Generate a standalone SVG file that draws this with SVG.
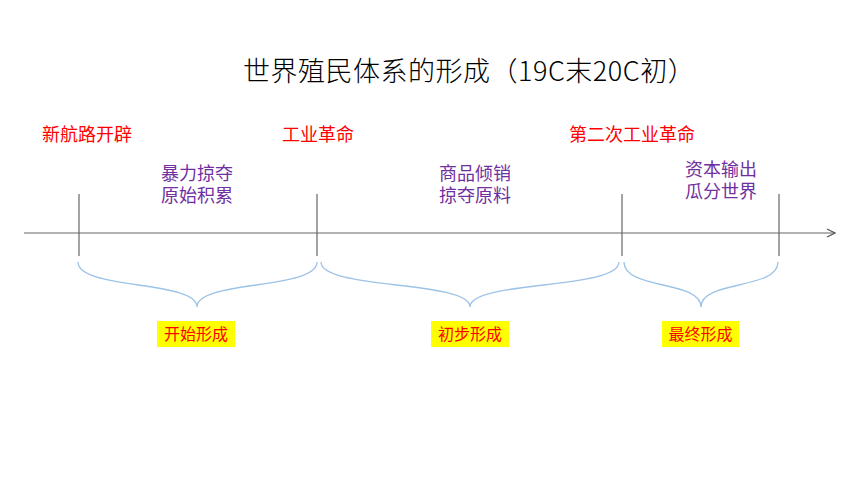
<svg xmlns="http://www.w3.org/2000/svg" width="860" height="484" viewBox="0 0 860 484">
<defs>
<style>
.t{font-family:"Noto Sans CJK SC","Noto Sans",sans-serif;}
.title{font-size:27px;fill:#000;font-weight:300;letter-spacing:0.5px;}
.red{font-size:18px;fill:#FF0000;}
.pur{font-size:18px;fill:#7030A0;text-anchor:middle;}
.lab{font-size:16px;fill:#FF0000;text-anchor:middle;}
.box{fill:#FFFF00;}
.tick{stroke:#666;stroke-width:1.2;fill:none;}
.brace{stroke:#9DC3E6;stroke-width:1.3;fill:none;}
</style>
<marker id="arr" viewBox="0 0 10 10" refX="9" refY="5" markerWidth="10" markerHeight="10" markerUnits="userSpaceOnUse" orient="auto">
<path d="M1,1 L9,5 L1,9" fill="none" stroke="#555" stroke-width="1.2"/>
</marker>
</defs>
<rect width="860" height="484" fill="#fff"/>
<text id="title" class="t title" x="243" y="81">世界殖民体系的形成（19C末20C初）</text>
<g id="connectors">
<line class="tick" x1="24" y1="233" x2="835" y2="233" marker-end="url(#arr)"/>
<line class="tick" x1="79" y1="194" x2="79" y2="256"/>
<line class="tick" x1="317" y1="194" x2="317" y2="256"/>
<line class="tick" x1="622" y1="194" x2="622" y2="256"/>
<line class="tick" x1="779" y1="194" x2="779" y2="256"/>
<path class="brace" d="M78,262 C78,290 197,280 197,307 C197,280 317,290 317,262"/>
<path class="brace" d="M321,262 C321,290 470,280 470,307 C470,280 619,290 619,262"/>
<path class="brace" d="M624,262 C624,290 701,280 701,307 C701,280 778,290 778,262"/>
</g>
<g id="event1"><text class="t red" x="42" y="141">新航路开辟</text></g>
<g id="event2"><text class="t red" x="282" y="141">工业革命</text></g>
<g id="event3"><text class="t red" x="569" y="141">第二次工业革命</text></g>
<g id="desc1"><text class="t pur" x="197" y="180">暴力掠夺</text><text class="t pur" x="197" y="202">原始积累</text></g>
<g id="desc2"><text class="t pur" x="475" y="180">商品倾销</text><text class="t pur" x="475" y="202">掠夺原料</text></g>
<g id="desc3"><text class="t pur" x="721" y="176">资本输出</text><text class="t pur" x="721" y="198">瓜分世界</text></g>
<g id="stage1"><rect class="box" x="157" y="321" width="78" height="26"/><text class="t lab" x="196" y="340">开始形成</text></g>
<g id="stage2"><rect class="box" x="431" y="321" width="78" height="26"/><text class="t lab" x="470" y="340">初步形成</text></g>
<g id="stage3"><rect class="box" x="662" y="321" width="77" height="26"/><text class="t lab" x="700.5" y="340">最终形成</text></g>
</svg>
